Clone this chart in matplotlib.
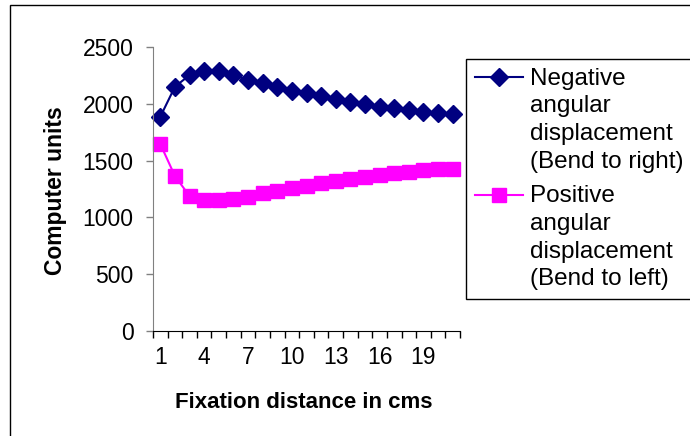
import matplotlib
matplotlib.use('Agg')
from matplotlib import pyplot as plt
from matplotlib.patches import Rectangle

plt.rcParams['font.family'] = ['Liberation Sans', 'DejaVu Sans']

# data
distance = list(range(1, 22))
negative = [1886, 2150, 2253, 2291, 2291, 2253, 2209, 2185, 2150, 2115, 2092,
            2068, 2039, 2013, 1995, 1974, 1960, 1945, 1930, 1921, 1910]
positive = [1646, 1364, 1188, 1153, 1153, 1164, 1182, 1212, 1235, 1256, 1276,
            1300, 1320, 1340, 1358, 1370, 1388, 1402, 1414, 1423, 1428]
xtick_labels = [1, 4, 7, 10, 13, 16, 19]
yticks = [0, 500, 1000, 1500, 2000, 2500]

fig = plt.figure(figsize=(6.9, 4.36), dpi=100)
ax = fig.add_axes([153 / 690, 1 - 331 / 436, 307 / 690, 284 / 436])

ax.plot(distance, negative, c='#000080', lw=1.5, marker='D', ms=9.5,
        label='Negative\nangular\ndisplacement\n(Bend to right)')
ax.plot(distance, positive, c='#FF00FF', lw=1.5, marker='s', ms=10,
        label='Positive\nangular\ndisplacement\n(Bend to left)')

ax.set_xlim(0.5, 21.5)
ax.set_ylim(0, 2500)
ax.set_xticks(xtick_labels)
ax.set_xticklabels([str(v) for v in xtick_labels])
ax.set_xticks([d - 0.5 for d in distance] + [21.5], minor=True)
ax.set_yticks(yticks)
ax.tick_params(axis='x', which='major', length=0, pad=11, labelsize=16.5)
ax.tick_params(axis='x', which='minor', length=5, direction='out', width=1)
ax.tick_params(axis='y', which='major', length=5, direction='out', width=1,
               pad=9, labelsize=16.5, color='#808080')

for s in ['top', 'right']:
    ax.spines[s].set_visible(False)
ax.spines['left'].set_color('#808080')
ax.spines['bottom'].set_color('black')
for line in ax.get_lines():
    line.set_clip_on(False)

ax.set_xlabel('Fixation distance in cms', fontsize=16, fontweight='bold')
ax.xaxis.set_label_coords(0.49, -0.2535)
ax.xaxis.label.set_va('center')
ax.set_ylabel('Computer units', fontsize=16.5, fontweight='bold')
ax.yaxis.set_label_coords(-0.319, 0.496)
ax.yaxis.label.set_va('center')

leg = fig.legend(loc='upper left', bbox_to_anchor=(466 / 690, 1 - 59 / 436),
                 fontsize=17.5, frameon=True, fancybox=False, framealpha=1,
                 edgecolor='black', handlelength=2.0, handleheight=1.0,
                 handletextpad=0.3, borderpad=0.35, labelspacing=0.5,
                 borderaxespad=0)
leg.get_frame().set_linewidth(1)
for t in leg.get_texts():
    t.set_linespacing(1.34)
# put the legend symbols next to the first line of each label
for col in leg._legend_handle_box.get_children():
    for row in col.get_children():
        row.align = 'top'

# outer chart border (cut off at right and bottom)
fig.patches.append(Rectangle((9.5 / 690, -0.1), 1.2, 1 - 5.5 / 436 + 0.1,
                             transform=fig.transFigure, fill=False,
                             edgecolor='black', lw=1))

plt.savefig('out.png', dpi=100)
